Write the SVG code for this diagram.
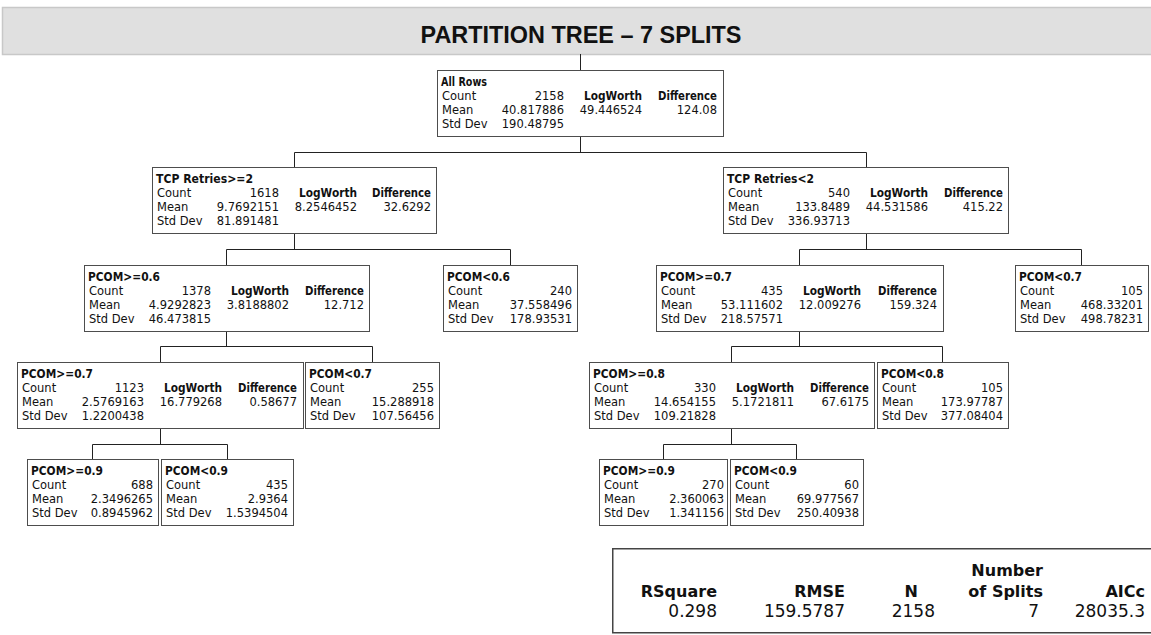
<svg xmlns="http://www.w3.org/2000/svg" width="1151" height="635" viewBox="0 0 1151 635">
<style>
.bg{fill:#ffffff}
.bar{fill:#e0e0e0;stroke:#c8c8c8;stroke-width:1.5}
.ttl{font-family:"Liberation Sans",Arial,sans-serif;font-weight:bold;font-size:24px;fill:#111;text-anchor:middle}
.box{fill:#ffffff;stroke:#4d4d4d;stroke-width:1}
.t{font-family:"DejaVu Sans",Verdana,sans-serif;font-size:11.5px;fill:#111}
.b{font-weight:bold}
.r{text-anchor:end}
.con{stroke:#222;stroke-width:1;fill:none}
.tb{fill:#ffffff;stroke:#444;stroke-width:1.5}
.th{font-family:"DejaVu Sans",Verdana,sans-serif;font-weight:bold;font-size:16px;fill:#111;text-anchor:end}
.tv{font-family:"DejaVu Sans",Verdana,sans-serif;font-size:17px;fill:#111;text-anchor:end}
</style>
<rect class="bg" x="0" y="0" width="1151" height="635"/>
<g id="title">
<rect class="bar" x="2.5" y="7.5" width="1160" height="47"/>
<text class="ttl" x="581" y="43" textLength="321" lengthAdjust="spacingAndGlyphs">PARTITION TREE – 7 SPLITS</text>
</g>
<g id="connectors">
<path class="con" d="M580.5 54 V70 M580.5 136 V152.5 M294.5 152.5 H866.5 M294.5 152.5 V167 M866.5 152.5 V167 M294.5 233 V249.5 M226.5 249.5 H510.5 M226.5 249.5 V265 M510.5 249.5 V265 M866.5 233 V249.5 M799.5 249.5 H1081.5 M799.5 249.5 V265 M1081.5 249.5 V265 M226.5 331 V346.5 M160.5 346.5 H372.5 M160.5 346.5 V362 M372.5 346.5 V362 M799.5 331 V346.5 M731.5 346.5 H942.5 M731.5 346.5 V362 M942.5 346.5 V362 M160.5 428 V444.5 M92.5 444.5 H227.5 M92.5 444.5 V459 M227.5 444.5 V459 M731.5 428 V444.5 M663.5 444.5 H796.5 M663.5 444.5 V459 M796.5 444.5 V459"/>
</g>
<g id="n_all_rows">
<rect class="box" x="437.5" y="70.5" width="286" height="66"/>
<text class="t b" x="441" y="86" textLength="46" lengthAdjust="spacingAndGlyphs">All Rows</text>
<text class="t" x="442" y="100">Count</text><text class="t" x="442" y="114">Mean</text><text class="t" x="442" y="128">Std Dev</text>
<text class="t r" x="564" y="100">2158</text><text class="t r" x="564" y="114">40.817886</text><text class="t r" x="564" y="128">190.48795</text>
<text class="t b r" x="642" y="100" textLength="58" lengthAdjust="spacingAndGlyphs">LogWorth</text><text class="t r" x="642" y="114">49.446524</text>
<text class="t b r" x="717" y="100" textLength="59" lengthAdjust="spacingAndGlyphs">Difference</text><text class="t r" x="717" y="114">124.08</text>
</g>
<g id="n_tcp_ge2">
<rect class="box" x="152.5" y="167.5" width="284" height="66"/>
<text class="t b" x="156" y="183" textLength="97" lengthAdjust="spacingAndGlyphs">TCP Retries&gt;=2</text>
<text class="t" x="157" y="197">Count</text><text class="t" x="157" y="211">Mean</text><text class="t" x="157" y="225">Std Dev</text>
<text class="t r" x="279" y="197">1618</text><text class="t r" x="279" y="211">9.7692151</text><text class="t r" x="279" y="225">81.891481</text>
<text class="t b r" x="357" y="197" textLength="58" lengthAdjust="spacingAndGlyphs">LogWorth</text><text class="t r" x="357" y="211">8.2546452</text>
<text class="t b r" x="431" y="197" textLength="59" lengthAdjust="spacingAndGlyphs">Difference</text><text class="t r" x="431" y="211">32.6292</text>
</g>
<g id="n_tcp_lt2">
<rect class="box" x="723.5" y="167.5" width="285" height="66"/>
<text class="t b" x="727" y="183" textLength="87" lengthAdjust="spacingAndGlyphs">TCP Retries&lt;2</text>
<text class="t" x="728" y="197">Count</text><text class="t" x="728" y="211">Mean</text><text class="t" x="728" y="225">Std Dev</text>
<text class="t r" x="850" y="197">540</text><text class="t r" x="850" y="211">133.8489</text><text class="t r" x="850" y="225">336.93713</text>
<text class="t b r" x="928" y="197" textLength="58" lengthAdjust="spacingAndGlyphs">LogWorth</text><text class="t r" x="928" y="211">44.531586</text>
<text class="t b r" x="1003" y="197" textLength="59" lengthAdjust="spacingAndGlyphs">Difference</text><text class="t r" x="1003" y="211">415.22</text>
</g>
<g id="n_pcom_ge06">
<rect class="box" x="84.5" y="265.5" width="285" height="66"/>
<text class="t b" x="88" y="281" textLength="72" lengthAdjust="spacingAndGlyphs">PCOM&gt;=0.6</text>
<text class="t" x="89" y="295">Count</text><text class="t" x="89" y="309">Mean</text><text class="t" x="89" y="323">Std Dev</text>
<text class="t r" x="211" y="295">1378</text><text class="t r" x="211" y="309">4.9292823</text><text class="t r" x="211" y="323">46.473815</text>
<text class="t b r" x="289" y="295" textLength="58" lengthAdjust="spacingAndGlyphs">LogWorth</text><text class="t r" x="289" y="309">3.8188802</text>
<text class="t b r" x="364" y="295" textLength="59" lengthAdjust="spacingAndGlyphs">Difference</text><text class="t r" x="364" y="309">12.712</text>
</g>
<g id="n_pcom_lt06">
<rect class="box" x="443.5" y="265.5" width="134" height="66"/>
<text class="t b" x="447" y="281" textLength="63" lengthAdjust="spacingAndGlyphs">PCOM&lt;0.6</text>
<text class="t" x="448" y="295">Count</text><text class="t" x="448" y="309">Mean</text><text class="t" x="448" y="323">Std Dev</text>
<text class="t r" x="572" y="295">240</text><text class="t r" x="572" y="309">37.558496</text><text class="t r" x="572" y="323">178.93531</text>
</g>
<g id="n_pcom_ge07_r">
<rect class="box" x="656.5" y="265.5" width="287" height="66"/>
<text class="t b" x="660" y="281" textLength="72" lengthAdjust="spacingAndGlyphs">PCOM&gt;=0.7</text>
<text class="t" x="661" y="295">Count</text><text class="t" x="661" y="309">Mean</text><text class="t" x="661" y="323">Std Dev</text>
<text class="t r" x="783" y="295">435</text><text class="t r" x="783" y="309">53.111602</text><text class="t r" x="783" y="323">218.57571</text>
<text class="t b r" x="861" y="295" textLength="58" lengthAdjust="spacingAndGlyphs">LogWorth</text><text class="t r" x="861" y="309">12.009276</text>
<text class="t b r" x="937" y="295" textLength="59" lengthAdjust="spacingAndGlyphs">Difference</text><text class="t r" x="937" y="309">159.324</text>
</g>
<g id="n_pcom_lt07_r">
<rect class="box" x="1015.5" y="265.5" width="133" height="66"/>
<text class="t b" x="1019" y="281" textLength="63" lengthAdjust="spacingAndGlyphs">PCOM&lt;0.7</text>
<text class="t" x="1020" y="295">Count</text><text class="t" x="1020" y="309">Mean</text><text class="t" x="1020" y="323">Std Dev</text>
<text class="t r" x="1143" y="295">105</text><text class="t r" x="1143" y="309">468.33201</text><text class="t r" x="1143" y="323">498.78231</text>
</g>
<g id="n_pcom_ge07_l">
<rect class="box" x="17.5" y="362.5" width="286" height="66"/>
<text class="t b" x="21" y="378" textLength="72" lengthAdjust="spacingAndGlyphs">PCOM&gt;=0.7</text>
<text class="t" x="22" y="392">Count</text><text class="t" x="22" y="406">Mean</text><text class="t" x="22" y="420">Std Dev</text>
<text class="t r" x="144" y="392">1123</text><text class="t r" x="144" y="406">2.5769163</text><text class="t r" x="144" y="420">1.2200438</text>
<text class="t b r" x="222" y="392" textLength="58" lengthAdjust="spacingAndGlyphs">LogWorth</text><text class="t r" x="222" y="406">16.779268</text>
<text class="t b r" x="297" y="392" textLength="59" lengthAdjust="spacingAndGlyphs">Difference</text><text class="t r" x="297" y="406">0.58677</text>
</g>
<g id="n_pcom_lt07_l">
<rect class="box" x="305.5" y="362.5" width="134" height="66"/>
<text class="t b" x="309" y="378" textLength="63" lengthAdjust="spacingAndGlyphs">PCOM&lt;0.7</text>
<text class="t" x="310" y="392">Count</text><text class="t" x="310" y="406">Mean</text><text class="t" x="310" y="420">Std Dev</text>
<text class="t r" x="434" y="392">255</text><text class="t r" x="434" y="406">15.288918</text><text class="t r" x="434" y="420">107.56456</text>
</g>
<g id="n_pcom_ge08">
<rect class="box" x="589.5" y="362.5" width="285" height="66"/>
<text class="t b" x="593" y="378" textLength="72" lengthAdjust="spacingAndGlyphs">PCOM&gt;=0.8</text>
<text class="t" x="594" y="392">Count</text><text class="t" x="594" y="406">Mean</text><text class="t" x="594" y="420">Std Dev</text>
<text class="t r" x="716" y="392">330</text><text class="t r" x="716" y="406">14.654155</text><text class="t r" x="716" y="420">109.21828</text>
<text class="t b r" x="794" y="392" textLength="58" lengthAdjust="spacingAndGlyphs">LogWorth</text><text class="t r" x="794" y="406">5.1721811</text>
<text class="t b r" x="869" y="392" textLength="59" lengthAdjust="spacingAndGlyphs">Difference</text><text class="t r" x="869" y="406">67.6175</text>
</g>
<g id="n_pcom_lt08">
<rect class="box" x="877.5" y="362.5" width="131" height="66"/>
<text class="t b" x="881" y="378" textLength="63" lengthAdjust="spacingAndGlyphs">PCOM&lt;0.8</text>
<text class="t" x="882" y="392">Count</text><text class="t" x="882" y="406">Mean</text><text class="t" x="882" y="420">Std Dev</text>
<text class="t r" x="1003" y="392">105</text><text class="t r" x="1003" y="406">173.97787</text><text class="t r" x="1003" y="420">377.08404</text>
</g>
<g id="n_pcom_ge09_l">
<rect class="box" x="27.5" y="459.5" width="131" height="66"/>
<text class="t b" x="31" y="475" textLength="72" lengthAdjust="spacingAndGlyphs">PCOM&gt;=0.9</text>
<text class="t" x="32" y="489">Count</text><text class="t" x="32" y="503">Mean</text><text class="t" x="32" y="517">Std Dev</text>
<text class="t r" x="153" y="489">688</text><text class="t r" x="153" y="503">2.3496265</text><text class="t r" x="153" y="517">0.8945962</text>
</g>
<g id="n_pcom_lt09_l">
<rect class="box" x="161.5" y="459.5" width="132" height="66"/>
<text class="t b" x="165" y="475" textLength="63" lengthAdjust="spacingAndGlyphs">PCOM&lt;0.9</text>
<text class="t" x="166" y="489">Count</text><text class="t" x="166" y="503">Mean</text><text class="t" x="166" y="517">Std Dev</text>
<text class="t r" x="288" y="489">435</text><text class="t r" x="288" y="503">2.9364</text><text class="t r" x="288" y="517">1.5394504</text>
</g>
<g id="n_pcom_ge09_r">
<rect class="box" x="599.5" y="459.5" width="128" height="66"/>
<text class="t b" x="603" y="475" textLength="72" lengthAdjust="spacingAndGlyphs">PCOM&gt;=0.9</text>
<text class="t" x="604" y="489">Count</text><text class="t" x="604" y="503">Mean</text><text class="t" x="604" y="517">Std Dev</text>
<text class="t r" x="724" y="489">270</text><text class="t r" x="724" y="503">2.360063</text><text class="t r" x="724" y="517">1.341156</text>
</g>
<g id="n_pcom_lt09_r">
<rect class="box" x="730.5" y="459.5" width="133" height="66"/>
<text class="t b" x="734" y="475" textLength="63" lengthAdjust="spacingAndGlyphs">PCOM&lt;0.9</text>
<text class="t" x="735" y="489">Count</text><text class="t" x="735" y="503">Mean</text><text class="t" x="735" y="517">Std Dev</text>
<text class="t r" x="859" y="489">60</text><text class="t r" x="859" y="503">69.977567</text><text class="t r" x="859" y="517">250.40938</text>
</g>
<g id="fit_table">
<rect class="tb" x="612.75" y="548.75" width="560" height="84"/>
<text class="th" x="1043" y="576">Number</text>
<text class="th" x="717" y="597">RSquare</text>
<text class="th" x="845" y="597">RMSE</text>
<text class="th" x="918" y="597">N</text>
<text class="th" x="1043" y="597">of Splits</text>
<text class="th" x="1145" y="597">AICc</text>
<text class="tv" x="717" y="617">0.298</text>
<text class="tv" x="845" y="617">159.5787</text>
<text class="tv" x="935" y="617">2158</text>
<text class="tv" x="1039" y="617">7</text>
<text class="tv" x="1145" y="617">28035.3</text>
</g>
</svg>
